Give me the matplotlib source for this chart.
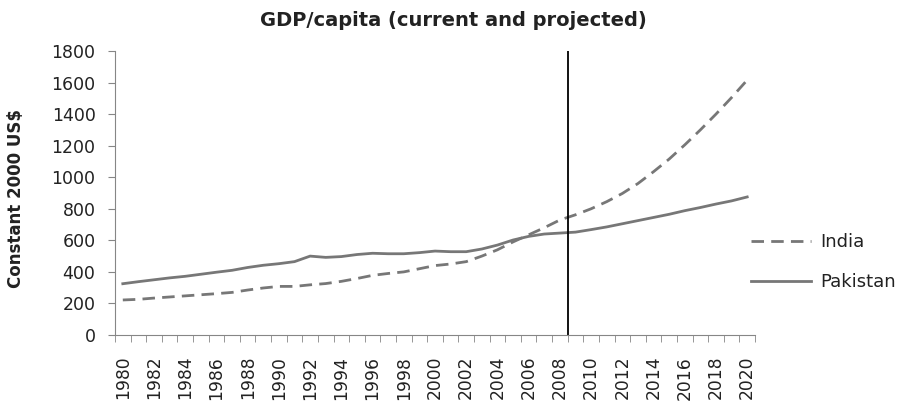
import numpy as np
import matplotlib
matplotlib.use('Agg')
import matplotlib.pyplot as plt

plt.rcParams['font.family'] = ['DejaVu Sans']

years = list(range(1980, 2021))
india = [222, 226, 234, 241, 248, 255, 262, 270, 285, 298, 308, 308, 318, 326, 340, 358, 378, 390, 400, 420,
         440, 450, 465, 500, 540, 590, 635, 680, 729, 762, 800, 845, 897, 960, 1035, 1115, 1205, 1300, 1400, 1505, 1616]
pakistan = [325, 338, 350, 362, 372, 385, 398, 410, 428, 442, 452, 465, 500, 492, 497, 510, 518, 515, 515, 522,
            532, 528, 528, 545, 570, 602, 625, 640, 646, 652, 668, 685, 705, 725, 745, 765, 788, 808, 830, 850, 875]
split_year = 2008

x = np.arange(len(years))
gray = '#777777'
axis_gray = '#868686'

fig = plt.figure(figsize=(9.06, 4.05), dpi=100)
ax = fig.add_axes([115 / 906, 1 - 335 / 405, 640 / 906, 284 / 405])

ax.plot(x, india, color=gray, lw=2, ls=(0, (4.5, 2.6)), label='India')
ax.plot(x, pakistan, color=gray, lw=2, label='Pakistan')
# projection starts after the split year -> line sits on the boundary tick
ax.axvline(years.index(split_year) + 0.5, color='black', lw=1.3)

ax.set_xlim(-0.5, len(years) - 0.5)
ax.set_ylim(0, 1800)
ax.set_yticks(range(0, 1801, 200))
ax.set_xticks(x[::2])
ax.set_xticklabels([str(y) for y in years[::2]], rotation=90)
ax.set_xticks(np.arange(-0.5, len(years), 1), minor=True)
ax.tick_params(axis='x', which='major', length=0, pad=15, labelsize=12.3, colors='#222222')
ax.tick_params(axis='x', which='minor', length=5, color=axis_gray)
ax.tick_params(axis='y', length=5, color=axis_gray, labelsize=12.5, labelcolor='#222222', pad=9)

for s in ['top', 'right']:
    ax.spines[s].set_visible(False)
for s in ['left', 'bottom']:
    ax.spines[s].set_color(axis_gray)

fig.text(0.5, 1 - 20 / 405, 'GDP/capita (current and projected)', ha='center', va='center',
         fontsize=14, fontweight='bold', color='#222222')
fig.text(16 / 906, 1 - 198 / 405, 'Constant 2000 US$', ha='center', va='center', rotation=90,
         fontsize=12, fontweight='bold', color='#222222')

fig.legend(loc='center left', bbox_to_anchor=(751 / 906, 1 - 262 / 405), frameon=False, fontsize=13,
           handlelength=3.3, handletextpad=0.55, labelspacing=1.2, borderpad=0, borderaxespad=0,
           labelcolor='#222222')

fig.savefig('out.png', dpi=100)
